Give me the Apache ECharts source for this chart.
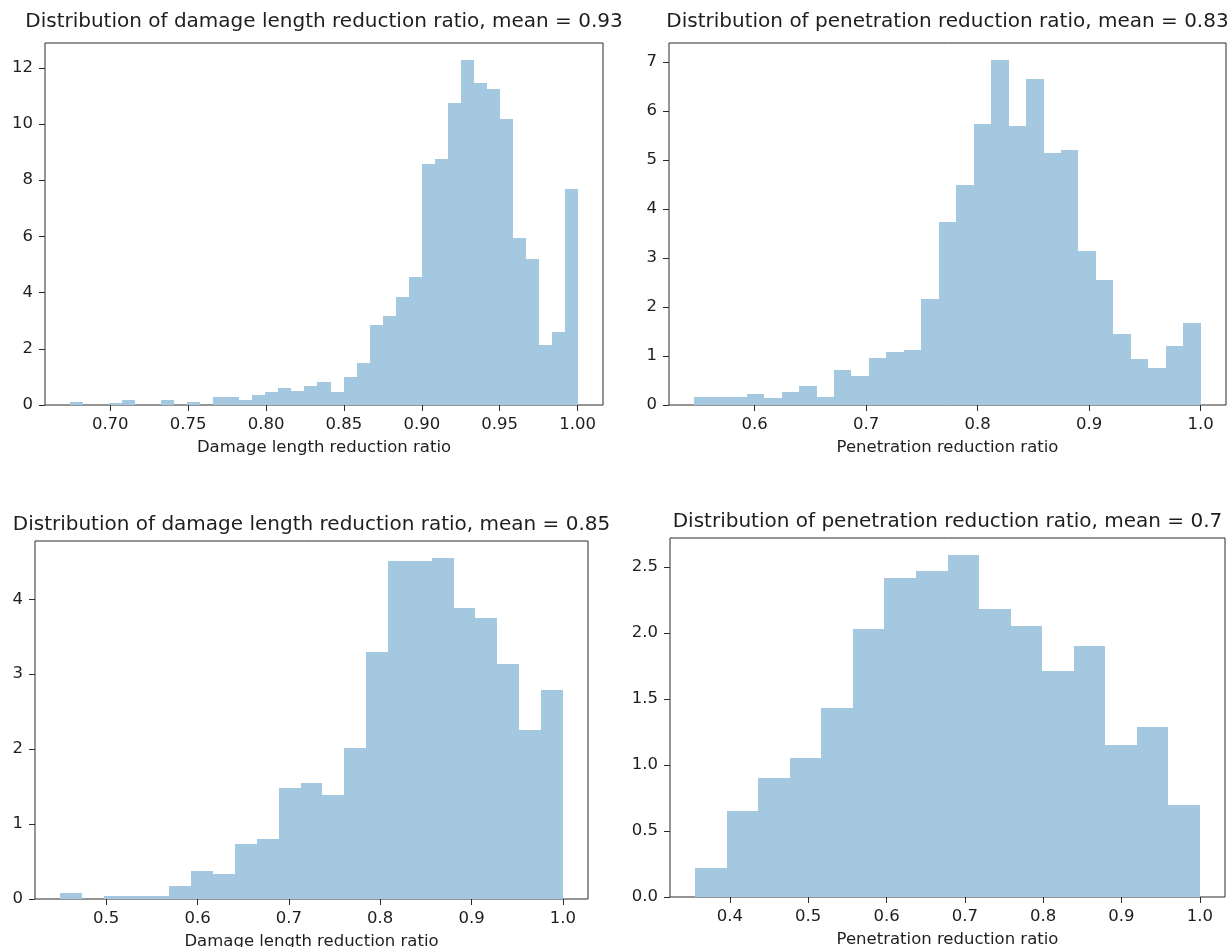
<!DOCTYPE html>
<html>
<head>
<meta charset="utf-8">
<title>Reduction ratio distributions</title>
<script src="https://cdn.jsdelivr.net/npm/echarts@6/dist/echarts.min.js"></script>
<style>
  html, body { margin: 0; padding: 0; background: #ffffff; }
  #chart { width: 1228px; height: 947px; }
</style>
</head>
<body>
<div id="chart"></div>
<script>
// ---- Histogram data (density per bin, equal-width bins over [lo, hi]) ----

// Panel A: damage length reduction ratio, mean = 0.93
const dlrARange = [0.6744, 1.0];
const dlrADensity = [
  0.11, 0, 0, 0.08, 0.18, 0, 0, 0.18, 0, 0.10,
  0, 0.30, 0.30, 0.18, 0.36, 0.47, 0.59, 0.51, 0.68, 0.81,
  0.48, 0.99, 1.51, 2.83, 3.17, 3.86, 4.55, 8.59, 8.75, 10.75,
  12.27, 11.46, 11.25, 10.18, 5.96, 5.19, 2.14, 2.61, 7.70
];
const dlrAXTicks = [0.70, 0.75, 0.80, 0.85, 0.90, 0.95, 1.00];
const dlrAYTicks = [0, 2, 4, 6, 8, 10, 12];

// Panel B: penetration reduction ratio, mean = 0.83
const penARange = [0.546, 1.0];
const penADensity = [
  0.16, 0.16, 0.16, 0.23, 0.15, 0.27, 0.38, 0.16, 0.72, 0.60,
  0.96, 1.08, 1.13, 2.17, 3.73, 4.50, 5.74, 7.04, 5.70, 6.66,
  5.15, 5.20, 3.14, 2.55, 1.46, 0.94, 0.76, 1.21, 1.68
];
const penAXTicks = [0.6, 0.7, 0.8, 0.9, 1.0];
const penAYTicks = [0, 1, 2, 3, 4, 5, 6, 7];

// Panel C: damage length reduction ratio, mean = 0.85
const dlrBRange = [0.4496, 1.0];
const dlrBDensity = [
  0.08, 0, 0.04, 0.04, 0.04, 0.17, 0.38, 0.33, 0.73, 0.80,
  1.48, 1.55, 1.39, 2.01, 3.30, 4.51, 4.51, 4.55, 3.88, 3.75,
  3.13, 2.25, 2.79
];
const dlrBXTicks = [0.5, 0.6, 0.7, 0.8, 0.9, 1.0];
const dlrBYTicks = [0, 1, 2, 3, 4];

// Panel D: penetration reduction ratio, mean = 0.7
const penBRange = [0.3557, 1.0];
const penBDensity = [
  0.22, 0.65, 0.90, 1.05, 1.43, 2.03, 2.42, 2.47, 2.59, 2.18,
  2.05, 1.71, 1.90, 1.15, 1.29, 0.70
];
const penBXTicks = [0.4, 0.5, 0.6, 0.7, 0.8, 0.9, 1.0];
const penBYTicks = [0, 0.5, 1.0, 1.5, 2.0, 2.5];

// Text
const panelTitles = [
  'Distribution of damage length reduction ratio, mean = 0.93',
  'Distribution of penetration reduction ratio, mean = 0.83',
  'Distribution of damage length reduction ratio, mean = 0.85',
  'Distribution of penetration reduction ratio, mean = 0.7'
];
const xAxisNames = [
  'Damage length reduction ratio',
  'Penetration reduction ratio',
  'Damage length reduction ratio',
  'Penetration reduction ratio'
];

// ---- Styling / layout ----
const FONT = 'DejaVu Sans';
const TITLE_SIZE = 20;
const LABEL_SIZE = 16.5;
const BAR_COLOR = '#a5c8e1';
const INK = '#1e1e1e';
const FRAME = '#2a2a2a';

const panels = [
  { range: dlrARange, dens: dlrADensity, xt: dlrAXTicks, yt: dlrAYTicks, xDec: 2, yDec: 0,
    grid: { left: 45, top: 43, width: 558, height: 362 }, titleMid: 22 },
  { range: penARange, dens: penADensity, xt: penAXTicks, yt: penAYTicks, xDec: 1, yDec: 0,
    grid: { left: 669, top: 43, width: 557, height: 362 }, titleMid: 22 },
  { range: dlrBRange, dens: dlrBDensity, xt: dlrBXTicks, yt: dlrBYTicks, xDec: 1, yDec: 0,
    grid: { left: 35, top: 541, width: 553, height: 358 }, titleMid: 525 },
  { range: penBRange, dens: penBDensity, xt: penBXTicks, yt: penBYTicks, xDec: 1, yDec: 1,
    grid: { left: 670, top: 538, width: 555, height: 359 }, titleMid: 522 }
];

// Turn a density array into [binStart, binEnd, density] rows
function toBins(range, dens) {
  const lo = range[0], hi = range[1], n = dens.length;
  const w = (hi - lo) / n;
  return dens.map((d, i) => [lo + i * w, lo + (i + 1) * w, d]);
}

// One filled rectangle per bin; edges snapped to whole pixels so that
// neighbouring bars meet without hairline seams
function renderBar(params, api) {
  const h = api.value(2);
  if (!(h > 0)) return null;
  const p0 = api.coord([api.value(0), h]);
  const p1 = api.coord([api.value(1), 0]);
  const x0 = Math.round(p0[0]), x1 = Math.round(p1[0]);
  const yT = Math.round(p0[1]), yB = Math.round(p1[1]);
  return {
    type: 'rect',
    shape: { x: x0, y: yT, width: x1 - x0, height: yB - yT },
    style: { fill: BAR_COLOR }
  };
}

const grids = [], xAxes = [], yAxes = [], series = [], titles = [];
const TITLE_LH = 24;

panels.forEach((p, i) => {
  const span = p.range[1] - p.range[0];
  const yTop = Math.max.apply(null, p.dens) * 1.05;

  // fixed plot boxes: labels may sit near the page edge without shrinking the box
  grids.push(Object.assign({
    show: true, borderColor: FRAME, borderWidth: 1, backgroundColor: 'transparent',
    containLabel: false, outerBoundsMode: 'none'
  }, p.grid));

  titles.push({
    text: panelTitles[i],
    left: p.grid.left + p.grid.width / 2,
    top: p.titleMid - TITLE_LH / 2,
    padding: 0,
    textAlign: 'center',
    textStyle: { fontFamily: FONT, fontSize: TITLE_SIZE, fontWeight: 'normal', color: INK, lineHeight: TITLE_LH }
  });

  xAxes.push({
    type: 'value', gridIndex: i,
    min: p.range[0] - 0.05 * span,
    max: p.range[1] + 0.05 * span,
    name: xAxisNames[i], nameLocation: 'middle', nameGap: 34,
    nameTextStyle: { fontFamily: FONT, fontSize: LABEL_SIZE, color: INK },
    axisLine: { show: false },
    splitLine: { show: false },
    axisTick: { show: true, length: 6, inside: false, customValues: p.xt,
                lineStyle: { color: FRAME, width: 1 } },
    axisLabel: { show: true, margin: 11, customValues: p.xt,
                 fontFamily: FONT, fontSize: LABEL_SIZE, color: INK,
                 formatter: v => Number(v).toFixed(p.xDec) }
  });

  yAxes.push({
    type: 'value', gridIndex: i,
    min: 0, max: yTop,
    axisLine: { show: false },
    splitLine: { show: false },
    axisTick: { show: true, length: 6, inside: false, customValues: p.yt,
                lineStyle: { color: FRAME, width: 1 } },
    axisLabel: { show: true, margin: 12, customValues: p.yt,
                 fontFamily: FONT, fontSize: LABEL_SIZE, color: INK,
                 formatter: v => Number(v).toFixed(p.yDec) }
  });

  series.push({
    type: 'custom',
    xAxisIndex: i, yAxisIndex: i,
    renderItem: renderBar,
    encode: { x: [0, 1], y: 2 },
    data: toBins(p.range, p.dens),
    animation: false,
    silent: true
  });
});

const chart = echarts.init(document.getElementById('chart'), null, { renderer: 'canvas' });
chart.setOption({
  backgroundColor: '#ffffff',
  animation: false,
  title: titles,
  grid: grids,
  xAxis: xAxes,
  yAxis: yAxes,
  series: series
});
</script>
</body>
</html>
